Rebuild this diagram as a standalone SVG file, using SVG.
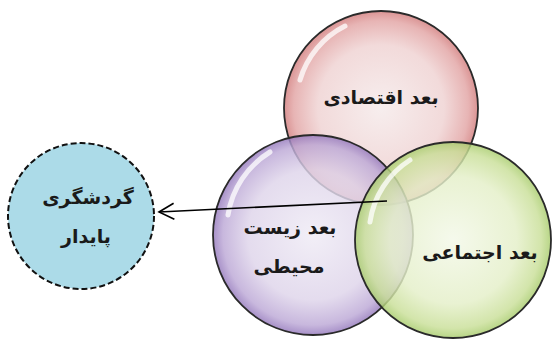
<svg xmlns="http://www.w3.org/2000/svg" width="553" height="339" viewBox="0 0 553 339">
<defs>
<radialGradient id="gRed" cx="0.5" cy="0.5" r="0.5">
<stop offset="0" stop-color="#f5eaea"/><stop offset="0.65" stop-color="#efd2d2"/><stop offset="0.9" stop-color="#e2a4a4"/><stop offset="1" stop-color="#d27c7c"/>
</radialGradient>
<radialGradient id="gPur" cx="0.5" cy="0.5" r="0.5">
<stop offset="0" stop-color="#efebf5"/><stop offset="0.65" stop-color="#ded4ea"/><stop offset="0.9" stop-color="#bca8d6"/><stop offset="1" stop-color="#9478bc"/>
</radialGradient>
<radialGradient id="gGrn" cx="0.5" cy="0.5" r="0.5">
<stop offset="0" stop-color="#f3f8e8"/><stop offset="0.65" stop-color="#e4efc8"/><stop offset="0.9" stop-color="#c9df98"/><stop offset="1" stop-color="#a8cc6c"/>
</radialGradient>
<marker id="arr" markerWidth="20" markerHeight="20" refX="17" refY="9" orient="auto" markerUnits="userSpaceOnUse" viewBox="0 0 20 18">
<path d="M2,1 L17,9 L2,17" fill="none" stroke="#000" stroke-width="1.6"/>
</marker>
<style>
.bub{stroke:#2a2a2a;stroke-width:1.8;fill-opacity:0.82}
.hl{fill:none;stroke:#fff;stroke-opacity:0.75;stroke-width:5;stroke-linecap:round}
.t{font-family:"DejaVu Sans",sans-serif;font-weight:bold;font-size:19px;fill:#1a1a1a;text-anchor:middle}
</style>
</defs>
<g id="economic">
<circle class="bub" cx="381" cy="108" r="97" fill="url(#gRed)"/>
<path class="hl" d="M300,80 A88,88 0 0 1 345,26"/>
</g>
<g id="environmental">
<circle class="bub" cx="313" cy="235" r="100" fill="url(#gPur)"/>
<path class="hl" d="M228,215 A90,90 0 0 1 270,152"/>
</g>
<g id="social">
<circle class="bub" cx="453" cy="240" r="98" fill="url(#gGrn)"/>
<path class="hl" d="M370,222 A88,88 0 0 1 410,160"/>
</g>
<g id="sustainable">
<circle cx="81" cy="216" r="73" fill="#acdbe8" stroke="#111" stroke-width="2" stroke-dasharray="6,3"/>
</g>
<g id="labels">
<text class="t" x="381" y="104" direction="rtl">بعد اقتصادی</text>
<text class="t" x="290" y="234" direction="rtl">بعد زیست</text>
<text class="t" x="289" y="273" direction="rtl">محیطی</text>
<text class="t" x="480" y="259" direction="rtl">بعد اجتماعی</text>
<text class="t" x="88" y="204" direction="rtl">گردشگری</text>
<text class="t" x="86" y="243" direction="rtl">پایدار</text>
</g>
<g id="connectors">
<line x1="387" y1="201" x2="159" y2="212" stroke="#000" stroke-width="1.6" marker-end="url(#arr)"/>
</g>
</svg>
